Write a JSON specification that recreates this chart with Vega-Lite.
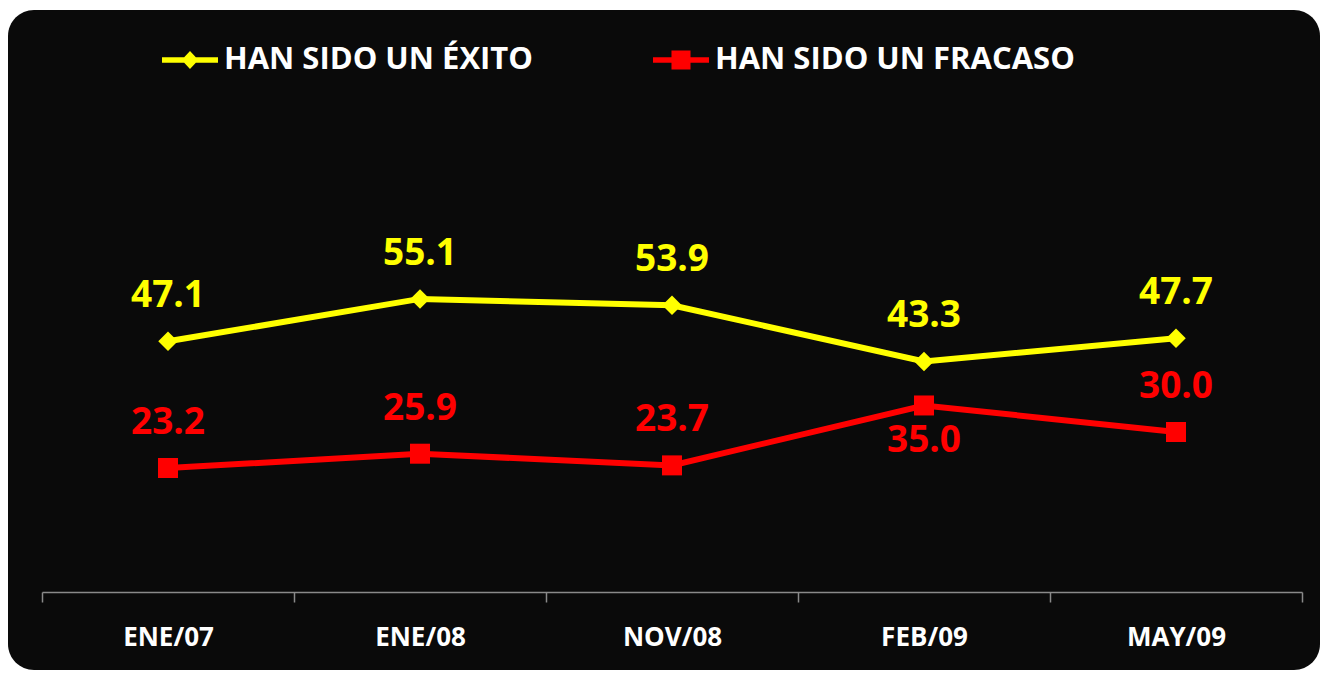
{
  "$schema": "https://vega.github.io/schema/vega-lite/v6.json",
  "width": 1312,
  "height": 660,
  "autosize": {"type": "none"},
  "padding": {"left": 8, "top": 10, "right": 3, "bottom": 3},
  "background": "white",
  "config": {
    "view": {"fill": "#0a0a0a", "stroke": null, "cornerRadius": 26},
    "font": "Open Sans"
  },
  "data": {
    "values": [
      {"periodo": "ENE/07", "serie": "HAN SIDO UN ÉXITO", "valor": 47.1},
      {"periodo": "ENE/08", "serie": "HAN SIDO UN ÉXITO", "valor": 55.1},
      {"periodo": "NOV/08", "serie": "HAN SIDO UN ÉXITO", "valor": 53.9},
      {"periodo": "FEB/09", "serie": "HAN SIDO UN ÉXITO", "valor": 43.3},
      {"periodo": "MAY/09", "serie": "HAN SIDO UN ÉXITO", "valor": 47.7},
      {"periodo": "ENE/07", "serie": "HAN SIDO UN FRACASO", "valor": 23.2},
      {"periodo": "ENE/08", "serie": "HAN SIDO UN FRACASO", "valor": 25.9},
      {"periodo": "NOV/08", "serie": "HAN SIDO UN FRACASO", "valor": 23.7},
      {"periodo": "FEB/09", "serie": "HAN SIDO UN FRACASO", "valor": 35.0},
      {"periodo": "MAY/09", "serie": "HAN SIDO UN FRACASO", "valor": 30.0}
    ]
  },
  "encoding": {
    "x": {
      "field": "periodo",
      "type": "nominal",
      "sort": ["ENE/07", "ENE/08", "NOV/08", "FEB/09", "MAY/09"],
      "scale": {"type": "band", "range": [34, 1294], "paddingInner": 0, "paddingOuter": 0},
      "axis": {
        "title": null,
        "orient": "bottom",
        "offset": -78,
        "labelAngle": 0,
        "domainColor": "#8a8a8a",
        "domainWidth": 1.5,
        "tickColor": "#8a8a8a",
        "tickWidth": 1.5,
        "tickSize": 10,
        "tickBand": "extent",
        "labelFont": "Open Sans",
        "labelFontWeight": "bold",
        "labelFontSize": 26,
        "labelColor": "#ffffff",
        "labelPadding": 22,
        "grid": false
      }
    },
    "y": {
      "field": "valor",
      "type": "quantitative",
      "scale": {"domain": [-14.9, 109.6], "nice": false, "zero": false},
      "axis": null
    },
    "color": {
      "field": "serie",
      "type": "nominal",
      "scale": {"domain": ["HAN SIDO UN ÉXITO", "HAN SIDO UN FRACASO"], "range": ["#ffff00", "#ff0000"]},
      "legend": {
        "title": null,
        "orient": "none",
        "legendX": 154,
        "legendY": 22,
        "direction": "horizontal",
        "columnPadding": 120,
        "symbolSize": 3136,
        "symbolOpacity": 1,
        "symbolStrokeWidth": 0,
        "labelOffset": 6,
        "labelLimit": 600,
        "labelFont": "Open Sans",
        "labelFontWeight": "bold",
        "labelFontSize": 31,
        "labelColor": "#ffffff",
        "labelBaseline": "middle"
      }
    }
  },
  "layer": [
    {"mark": {"type": "line", "strokeWidth": 6}},
    {
      "transform": [{"filter": "false"}],
      "mark": {"type": "point", "filled": true, "opacity": 1},
      "encoding": {
        "shape": {
          "field": "serie",
          "type": "nominal",
          "scale": {"domain": ["HAN SIDO UN ÉXITO", "HAN SIDO UN FRACASO"], "range": ["M-1,-0.1L1,-0.1L1,0.1L-1,0.1Z M0,-0.32L0.3,0L0,0.32L-0.3,0Z", "M-1,-0.1L1,-0.1L1,0.1L-1,0.1Z M-0.34,-0.34L0.34,-0.34L0.34,0.34L-0.34,0.34Z"]},
          "legend": {
            "title": null,
            "orient": "none",
            "legendX": 154,
            "legendY": 22,
            "direction": "horizontal",
            "columnPadding": 120,
            "symbolSize": 3136,
            "symbolOpacity": 1,
            "symbolStrokeWidth": 0,
            "labelOffset": 6,
            "labelLimit": 600,
            "labelFont": "Open Sans",
            "labelFontWeight": "bold",
            "labelFontSize": 31,
            "labelColor": "#ffffff",
            "labelBaseline": "middle"
          }
        }
      }
    },
    {
      "transform": [{"filter": "datum.serie == 'HAN SIDO UN ÉXITO'"}],
      "mark": {"type": "point", "filled": true, "opacity": 1, "size": 380, "shape": "diamond"}
    },
    {
      "transform": [{"filter": "datum.serie == 'HAN SIDO UN FRACASO'"}],
      "mark": {"type": "point", "filled": true, "opacity": 1, "size": 400, "shape": "square"}
    },
    {
      "transform": [{"filter": "!(datum.periodo == 'FEB/09' && datum.serie == 'HAN SIDO UN FRACASO')"}],
      "mark": {"type": "text", "dy": -45, "fontSize": 37, "fontWeight": "bold", "font": "Open Sans", "baseline": "middle"},
      "encoding": {"text": {"field": "valor", "type": "quantitative", "format": ".1f"}}
    },
    {
      "transform": [{"filter": "datum.periodo == 'FEB/09' && datum.serie == 'HAN SIDO UN FRACASO'"}],
      "mark": {"type": "text", "dy": 36, "fontSize": 37, "fontWeight": "bold", "font": "Open Sans", "baseline": "middle"},
      "encoding": {"text": {"field": "valor", "type": "quantitative", "format": ".1f"}}
    }
  ]
}
